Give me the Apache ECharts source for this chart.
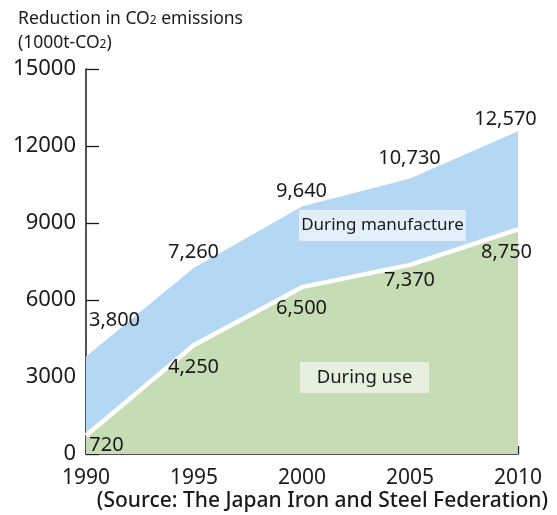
<!DOCTYPE html>
<html>
<head>
<meta charset="utf-8">
<script src="https://cdn.jsdelivr.net/npm/echarts@6/dist/echarts.min.js"></script>
<style>
  html, body { margin: 0; padding: 0; background: #fff; }
  #chart { width: 557px; height: 515px; }
</style>
</head>
<body>
<div id="chart"></div>
<script>
// Reduction in CO2 emissions (1000t-CO2)
const years = [1990, 1995, 2000, 2005, 2010];
const totalReduction = [3800, 7260, 9640, 10730, 12570];   // during use + during manufacture
const duringUse = [720, 4250, 6500, 7370, 8750];
const yTicks = { min: 0, max: 15000, interval: 3000 };
const xTicks = { min: 1990, max: 2010, interval: 5 };

// Label placement around each point (pixels)
const totalLabelNudge = [[29, -36], [0, -15], [0, -15], [0, -20], [-12, -12]];
const useLabelNudge = [[21, 10], [0, 23], [0, 22], [0, 16], [-11, 23]];

const FONT = '"Noto Sans", "Open Sans", sans-serif';
const fmt = v => v.toLocaleString('en-US');

function pointsWithLabels(values, nudges) {
  return values.map((v, i) => ({
    value: [years[i], v],
    label: { offset: nudges[i] }
  }));
}

const chart = echarts.init(document.getElementById('chart'), null, { renderer: 'canvas' });

const labelStyle = {
  show: true,
  position: [0, 0],
  align: 'center',
  verticalAlign: 'middle',
  fontFamily: FONT,
  fontSize: 20,
  color: '#1a1a1a',
  formatter: p => fmt(p.value[1])
};

chart.setOption({
  animation: false,
  grid: { left: 86, right: 39, top: 69, bottom: 61 },
  xAxis: {
    type: 'value',
    min: xTicks.min, max: xTicks.max, interval: xTicks.interval,
    axisLine: { lineStyle: { color: '#1a1a1a', width: 1.5 } },
    axisTick: { inside: true, length: 8, lineStyle: { color: '#1a1a1a', width: 1.3 } },
    axisLabel: { formatter: v => String(v), fontFamily: FONT, fontSize: 21, color: '#1a1a1a', margin: 14 },
    splitLine: { show: false }
  },
  yAxis: {
    type: 'value',
    min: yTicks.min, max: yTicks.max, interval: yTicks.interval,
    axisLine: { show: true, lineStyle: { color: '#1a1a1a', width: 1.5 } },
    axisTick: { show: true, inside: true, length: 13, lineStyle: { color: '#1a1a1a', width: 1.3 } },
    axisLabel: { formatter: v => String(v), fontFamily: FONT, fontSize: 22, color: '#1a1a1a', margin: 10 },
    splitLine: { show: false }
  },
  series: [
    {
      name: 'During manufacture',
      type: 'line',
      data: pointsWithLabels(totalReduction, totalLabelNudge),
      symbol: 'circle', symbolSize: 1, showSymbol: true,
      itemStyle: { color: 'rgba(0,0,0,0)' },
      lineStyle: { width: 0 },
      areaStyle: { color: '#b4d7f3', opacity: 1 },
      label: labelStyle,
      z: 2
    },
    {
      name: 'During use',
      type: 'line',
      data: pointsWithLabels(duringUse, useLabelNudge),
      symbol: 'circle', symbolSize: 1, showSymbol: true,
      itemStyle: { color: 'rgba(0,0,0,0)' },
      lineStyle: { width: 4.5, color: '#ffffff' },
      areaStyle: { color: '#c6dcb4', opacity: 1 },
      label: labelStyle,
      z: 3
    }
  ],
  graphic: [
    {
      type: 'text', left: 18, top: 7,
      style: {
        text: 'Reduction in CO{s|2} emissions\n(1000t-CO{s|2})',
        fontFamily: FONT, fontSize: 17.5, lineHeight: 24, fill: '#1a1a1a',
        rich: { s: { fontFamily: FONT, fontSize: 12, fill: '#1a1a1a', lineHeight: 24, padding: [3, 0, 0, 0] } }
      }
    },
    {
      type: 'group', left: 299, top: 210, zlevel: 1,
      children: [
        { type: 'rect', zlevel: 1, shape: { x: 0, y: 0, width: 167, height: 31 }, style: { fill: '#e2eefa' } },
        { type: 'text', zlevel: 1, x: 83.5, y: 15.5, style: { text: 'During manufacture', fontFamily: FONT, fontSize: 17, fill: '#1a1a1a', align: 'center', verticalAlign: 'middle' } }
      ]
    },
    {
      type: 'group', left: 300, top: 362, zlevel: 1,
      children: [
        { type: 'rect', zlevel: 1, shape: { x: 0, y: 0, width: 129, height: 31 }, style: { fill: '#e7f0df' } },
        { type: 'text', zlevel: 1, x: 64.5, y: 15.5, style: { text: 'During use', fontFamily: FONT, fontSize: 18.5, fill: '#1a1a1a', align: 'center', verticalAlign: 'middle' } }
      ]
    },
    {
      type: 'text', right: 9, top: 491,
      style: {
        text: '(Source: The Japan Iron and Steel Federation)',
        fontFamily: FONT, fontSize: 21, fontWeight: 500, fill: '#1a1a1a'
      }
    }
  ]
});
</script>
</body>
</html>
